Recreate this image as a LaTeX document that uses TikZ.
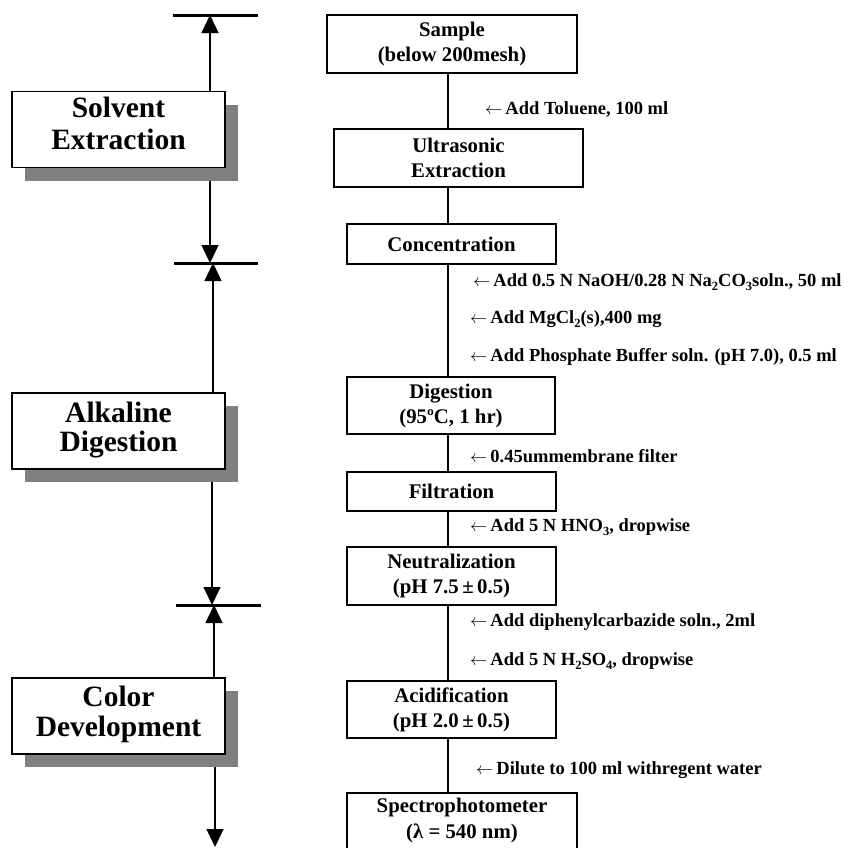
\documentclass[tikz,border=0pt]{standalone}
\usepackage{fontspec}
\setmainfont{Liberation Serif}
\usetikzlibrary{arrows.meta,shadows,backgrounds}
\definecolor{shadowgray}{RGB}{128,128,128}
\newcommand\sbs[1]{\raisebox{-4pt}{\fontsize{12.5}{12}\selectfont #1}}
\newcommand\larr{$\leftarrow$\hspace{3pt}}
\begin{document}
\begin{tikzpicture}[x=1pt,y=-1pt,
  box/.style={draw, line width=1.2pt, fill=white, inner sep=0pt, align=center,
    font=\fontsize{20.8}{25}\selectfont\bfseries},
  stage/.style={draw, line width=1.2pt, fill=white, inner sep=0pt, align=center,
    font=\fontsize{29.5}{31}\selectfont\bfseries, minimum width=213pt, minimum height=76pt,
    text height=40pt, text depth=0pt,
    drop shadow={shadow xshift=13pt, shadow yshift=-13pt, fill=shadowgray, opacity=1}},
  note/.style={inner sep=0pt, anchor=base west, font=\fontsize{18.5}{22}\selectfont\bfseries},
  conn/.style={line width=1.2pt},
  tipline/.style={line width=1.3pt, -{Triangle[length=18pt,width=17pt]}},
  bar/.style={line width=3pt}
]
\useasboundingbox (0,0) rectangle (853,847);

% process boxes
\node[box, minimum width=250pt, minimum height=58pt] (sample) at (452,44) {Sample\\(below 200mesh)};
\node[box, minimum width=249pt, minimum height=58pt] (ultra) at (458.5,158) {Ultrasonic\\Extraction};
\node[box, minimum width=209pt, minimum height=40pt] (conc) at (451.5,244) {Concentration};
\node[box, minimum width=208pt, minimum height=57pt] (dig) at (451,405.5) {Digestion\\(95ºC, 1 hr)};
\node[box, minimum width=209pt, minimum height=39pt] (filt) at (451.5,491.5) {Filtration};
\node[box, minimum width=209pt, minimum height=58pt] (neut) at (451.5,576) {Neutralization\\(pH 7.5\,±\,0.5)};
\node[box, minimum width=209pt, minimum height=57pt] (acid) at (451.5,709.5) {Acidification\\(pH 2.0\,±\,0.5)};
\node[box, minimum width=230pt, minimum height=66pt, text height=36pt, text depth=12pt] (spec) at (462,826) {Spectrophotometer\\[1pt](λ = 540 nm)};

% stage boxes
\node[stage] (solv) at (118.5,129.5) {Solvent\\[1pt]Extraction};
\node[stage] (alk) at (118.5,431) {Alkaline\\[-2pt]Digestion};
\node[stage] (col) at (118.5,716) {Color\\[-1pt]Development};

% coordinates
\coordinate (ax) at (448,0);
\coordinate (t1) at (210,15);
\coordinate (bar1a) at (173,15);
\coordinate (bar1b) at (258,15);
\coordinate (t2d) at (210,263);
\coordinate (t2u) at (213,263);
\coordinate (bar2a) at (174,263);
\coordinate (bar2b) at (258,263);
\coordinate (t3d) at (212,605);
\coordinate (t3u) at (214,605);
\coordinate (bar3a) at (176,605);
\coordinate (bar3b) at (261,605);
\coordinate (tend) at (215,847);

% annotations
\node[note] (a1) at (485,114) {\larr Add Toluene, 100 ml};
\node[note] (a2) at (473,286) {\larr Add 0.5 N NaOH/0.28 N Na\sbs{2}CO\sbs{3}soln., 50 ml};
\node[note] (a3) at (470,323) {\larr Add MgCl\sbs{2}(s),400 mg};
\node[note] (a4) at (470,361) {\larr Add Phosphate Buffer soln. (pH 7.0), 0.5 ml};
\node[note] (a5) at (470,462.5) {\larr 0.45ummembrane filter};
\node[note] (a6) at (470,531.5) {\larr Add 5 N HNO\sbs{3}, dropwise};
\node[note] (a7) at (470,626.5) {\larr Add diphenylcarbazide soln., 2ml};
\node[note] (a8) at (470,665) {\larr Add 5 N H\sbs{2}SO\sbs{4}, dropwise};
\node[note] (a9) at (476,774) {\larr Dilute to 100 ml withregent water};

% bars
\draw[bar] (bar1a) -- (bar1b);
\draw[bar] (bar2a) -- (bar2b);
\draw[bar] (bar3a) -- (bar3b);

\begin{scope}[on background layer]
  \draw[tipline] (solv.north -| t1) -- (t1);
  \draw[tipline] (solv.south -| t2d) -- (t2d);
  \draw[tipline] (alk.north -| t2u) -- (t2u);
  \draw[tipline] (alk.south -| t3d) -- (t3d);
  \draw[tipline] (col.north -| t3u) -- (t3u);
  \draw[tipline] (col.south -| tend) -- (tend);
  \draw[conn] (sample.south -| ax) -- (ultra.north -| ax);
  \draw[conn] (ultra.south -| ax) -- (conc.north -| ax);
  \draw[conn] (conc.south -| ax) -- (dig.north -| ax);
  \draw[conn] (dig.south -| ax) -- (filt.north -| ax);
  \draw[conn] (filt.south -| ax) -- (neut.north -| ax);
  \draw[conn] (neut.south -| ax) -- (acid.north -| ax);
  \draw[conn] (acid.south -| ax) -- (spec.north -| ax);
\end{scope}
\end{tikzpicture}
\end{document}
